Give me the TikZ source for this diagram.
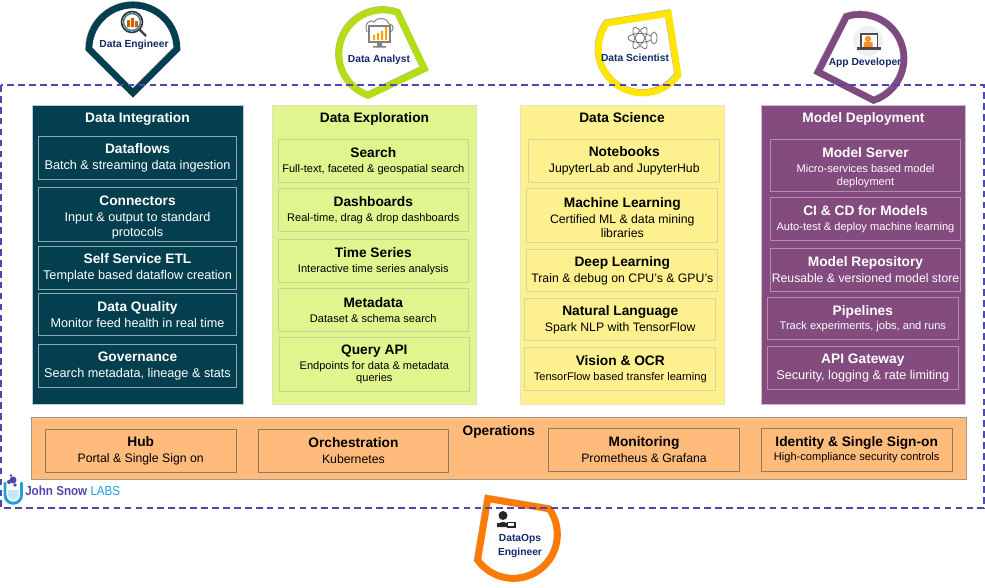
\documentclass[tikz,border=0pt]{standalone}
\usepackage{fontspec}
\setmainfont{Liberation Sans}
\usetikzlibrary{calc}
\usetikzlibrary{positioning}
\definecolor{IntegrationBg}{HTML}{043F4F}
\definecolor{IntegrationLine}{HTML}{8FA9B0}
\definecolor{ExplorationBg}{HTML}{E0F58E}
\definecolor{ExplorationLine}{HTML}{C3D29A}
\definecolor{ScienceBg}{HTML}{FDF08F}
\definecolor{ScienceLine}{HTML}{DDD29C}
\definecolor{DeploymentBg}{HTML}{844B7F}
\definecolor{DeploymentLine}{HTML}{AC90AC}
\definecolor{OperationsBg}{HTML}{FFBB7C}
\definecolor{OperationsLine}{HTML}{8E7A62}
\definecolor{FrameDash}{HTML}{4F46AE}
\definecolor{RoleText}{HTML}{122A6B}
\definecolor{LimePin}{HTML}{B5DD14}
\definecolor{YellowPin}{HTML}{FFE600}
\definecolor{PurplePin}{HTML}{7F4A80}
\definecolor{OrangePin}{HTML}{FF7A00}
\definecolor{LogoBlue}{HTML}{1E9FE0}
\newcommand{\subL}{\fontsize{9.5}{12}\selectfont\mdseries}
\newcommand{\subM}{\fontsize{9.2}{12}\selectfont\mdseries}
\newcommand{\subS}{\fontsize{8.3}{12}\selectfont\mdseries}
\newcommand{\tallhead}{\rule{0pt}{12pt}}
\newcommand{\midhead}{\rule{0pt}{10pt}}
\tikzset{
  panel/.style={shape=rectangle, anchor=north west, minimum width=153pt,
    minimum height=224.25pt, inner sep=0pt, outer sep=0pt},
  paneltitle/.style={font=\fontsize{10.3}{12}\selectfont\bfseries, inner sep=0pt,
    outer sep=0pt, text height=8pt, text depth=2.5pt},
  card/.style={shape=rectangle, minimum width=143pt, minimum height=32pt, inner sep=0pt,
    outer sep=0pt, align=center, line width=0.7pt, font=\fontsize{10.3}{12}\selectfont\bfseries,
    execute at begin node=\rule{0pt}{9pt}},
  darkcard/.style={card, draw=IntegrationLine, text=white, minimum width=149pt},
  limecard/.style={card, draw=ExplorationLine},
  sandcard/.style={card, draw=ScienceLine},
  plumcard/.style={card, draw=DeploymentLine, text=white},
  peachcard/.style={card, draw=OperationsLine},
  rolepin/.style={line width=5pt, miter limit=10},
  rolelabel/.style={text=RoleText, inner sep=0pt, align=center,
    font=\fontsize{7.7}{9.8}\selectfont\bfseries},
}
\begin{document}
\begin{tikzpicture}[x=0.75pt, y=0.75pt]
    \foreach \cx/\cy/\ang/\pincol in {133/-49/-90/IntegrationBg, 383/-54/-19.6/LimePin,
      642.5/-49/54/YellowPin, 860/-58.5/198/PurplePin, 513.5/-534.5/125.5/OrangePin} {
      \draw[rolepin, draw=black, opacity=0.3, shift={(-0.5,0.5)}]
        ($(\cx,\cy)+(\ang:33pt)$) -- ($(\cx,\cy)+(\ang+90:33pt)$)
        arc[start angle=\ang+90, end angle=\ang+270, radius=33pt] -- cycle;
      \draw[rolepin, draw=\pincol]
        ($(\cx,\cy)+(\ang:33pt)$) -- ($(\cx,\cy)+(\ang+90:33pt)$)
        arc[start angle=\ang+90, end angle=\ang+270, radius=33pt] -- cycle;
    }

    \draw[line width=1.5pt, FrameDash, dash pattern=on 5pt off 3.2pt] (1,-85) rectangle (984,-508);

    \node[name=integration, panel, fill=IntegrationBg, draw=IntegrationLine!60, minimum width=158.25pt] at (32,-105) {};
    \node[name=integrationtitle, paneltitle, text=white, below=5.4pt of integration.north] {Data Integration};
    \node[name=dataflows, darkcard, below=7.7pt of integrationtitle] {Dataflows\\\subL Batch \& streaming data ingestion};
    \node[name=connectors, darkcard, minimum height=40.5pt, below=6pt of dataflows] {\tallhead Connectors\\\subL Input \& output to standard\\[-1pt]\subL protocols};
    \node[name=selfservice, darkcard, below=4.1pt of connectors] {Self Service ETL\\\subL Template based dataflow creation};
    \node[name=quality, darkcard, below=3pt of selfservice] {Data Quality\\\subL Monitor feed health in real time};
    \node[name=governance, darkcard, below=6.4pt of quality] {Governance\\\subL Search metadata, lineage \& stats};

    \node[name=exploration, panel, fill=ExplorationBg, draw=ExplorationLine!60] at (272.5,-105) {};
    \node[name=explorationtitle, paneltitle, below=5.4pt of exploration.north] {Data Exploration};
    \node[name=search, limecard, below=10pt of explorationtitle, xshift=-0.9pt] {Search\\[-1pt]\subS Full-text, faceted \& geospatial search};
    \node[name=dashboards, limecard, below=4.9pt of search] {Dashboards\\[-1pt]\subS Real-time, drag \& drop dashboards};
    \node[name=timeseries, limecard, below=6.4pt of dashboards] {Time Series\\[-1pt]\subS Interactive time series analysis};
    \node[name=metadata, limecard, below=4.5pt of timeseries] {Metadata\\[-1pt]\subS Dataset \& schema search};
    \node[name=queryapi, limecard, minimum height=41pt, below=4.5pt of metadata, xshift=0.8pt] {Query API\\[-1pt]\subS Endpoints for data \& metadata\\[-2.5pt]\subS queries};

    \node[name=science, panel, fill=ScienceBg, draw=ScienceLine!60] at (520,-105) {};
    \node[name=sciencetitle, paneltitle, below=5.4pt of science.north] {Data Science};
    \node[name=notebooks, sandcard, below=10pt of sciencetitle, xshift=1.7pt] {Notebooks\\\subM JupyterLab and JupyterHub};
    \node[name=machinelearning, sandcard, minimum height=40pt, below=4.9pt of notebooks, xshift=-1.5pt] {\midhead Machine Learning\\\subM Certified ML \& data mining\\[-1.5pt]\subM libraries};
    \node[name=deeplearning, sandcard, below=5.25pt of machinelearning] {Deep Learning\\\subM Train \& debug on CPU's \& GPU's};
    \node[name=naturallanguage, sandcard, below=4.9pt of deeplearning, xshift=-1.5pt] {Natural Language\\\subM Spark NLP with TensorFlow};
    \node[name=visionocr, sandcard, below=5.25pt of naturallanguage] {Vision \& OCR\\[-1pt]\subS TensorFlow based transfer learning};

    \node[name=deployment, panel, fill=DeploymentBg, draw=DeploymentLine!60] at (761.5,-105) {};
    \node[name=deploymenttitle, paneltitle, text=white, below=5.4pt of deployment.north] {Model Deployment};
    \node[name=modelserver, plumcard, minimum height=39pt, below=10.3pt of deploymenttitle, xshift=1.5pt] {\midhead Model Server\\[-1pt]\subS Micro-services based model\\[-2.5pt]\subS deployment};
    \node[name=cicd, plumcard, below=4.5pt of modelserver] {CI \& CD for Models\\[-1pt]\subS Auto-test \& deploy machine learning};
    \node[name=repository, plumcard, below=6pt of cicd] {Model Repository\\\subM Reusable \& versioned model store};
    \node[name=pipelines, plumcard, below=4.5pt of repository, xshift=-2pt] {Pipelines\\[-1pt]\subS Track experiments, jobs, and runs};
    \node[name=gateway, plumcard, below=5.25pt of pipelines] {API Gateway\\\subL Security, logging \& rate limiting};

    \node[name=operations, panel, fill=OperationsBg, draw=OperationsLine!80, minimum width=701pt, minimum height=46pt] at (31.5,-417.5) {};
    \node[name=operationstitle, paneltitle, below=5.5pt of operations.north] {Operations};
    \node[name=hub, peachcard, right=10.4pt of operations.west, yshift=-1.9pt] {Hub\\\subM Portal \& Single Sign on};
    \node[name=orchestration, peachcard, right=16.5pt of hub] {Orchestration\\\subM Kubernetes};
    \node[name=monitoring, peachcard, right=75pt of orchestration, yshift=0.75pt] {Monitoring\\\subM Prometheus \& Grafana};
    \node[name=identity, peachcard, right=16.5pt of monitoring] {Identity \& Single Sign-on\\[-1pt]\subS High-compliance security controls};

    \node[name=engineerlabel, rolelabel] at (134,-44.5) {Data Engineer};
    \node[name=analystlabel, rolelabel] at (379,-60) {Data Analyst};
    \node[name=scientistlabel, rolelabel] at (635,-58) {Data Scientist};
    \node[name=developerlabel, rolelabel] at (865,-63) {App Developer};
    \node[name=dataopslabel, rolelabel] at (520,-546) {DataOps\\Engineer};

    \draw[line width=1.6pt, black!75] (139,-29) -- (146,-36);
    \draw[line width=1.2pt, black!80, fill=white] (132,-22) circle[radius=10.5];
    \draw[line width=1.2pt, cyan!60!black] (132,-22) circle[radius=8.5];
    \fill[OrangePin!80!black] (127,-27) rectangle (130,-20) (131,-27) rectangle (134,-18) (135,-27) rectangle (138,-21);

    \draw[line width=0.8pt, black!45, fill=white] (367,-32) .. controls (363,-22) and (372,-19) .. (374,-22)
      .. controls (378,-16) and (388,-18) .. (389,-24) .. controls (395,-24) and (394,-32) .. (389,-32);
    \draw[line width=1.2pt, black!50, fill=white] (369,-26) rectangle (390,-42);
    \fill[black!50] (377,-42) rectangle (382,-46) (373,-46) rectangle (386,-47.5);
    \fill[OrangePin!70!yellow] (373,-40) rectangle (375,-35) (377,-40) rectangle (379,-33) (381,-40) rectangle (383,-31) (385,-40) rectangle (387,-27);

    \draw[line width=0.6pt, black!55] (640,-38) ellipse[x radius=12, y radius=4.5];
    \draw[line width=0.6pt, black!55, rotate around={60:(640,-38)}] (640,-38) ellipse[x radius=12, y radius=4.5];
    \draw[line width=0.6pt, black!55, rotate around={120:(640,-38)}] (640,-38) ellipse[x radius=12, y radius=4.5];
    \draw[line width=0.6pt, black!55, fill=white] (654,-38) ellipse[x radius=3, y radius=6];

    \fill[black!6] (868,-41) circle[radius=15];
    \fill[black!70] (860,-48) rectangle (878,-33);
    \fill[white] (861.5,-46.5) rectangle (876.5,-34.5);
    \fill[OrangePin!85] (868,-39) circle[radius=3.2] (863.5,-47) rectangle (872.5,-42);
    \fill[black!70] (857,-47) rectangle (881,-49.5);

    \fill[black!85] (503,-515.5) circle[radius=4.5];
    \fill[black!85] (497,-527) .. controls (498,-520) and (508,-520) .. (509,-527) -- cycle;
    \draw[line width=0.9pt, black!85, fill=white] (507.5,-522.5) rectangle (515,-527);
    \fill[black!85] (497,-522.5) rectangle (505,-527);

    \draw[line width=2.2pt, LogoBlue, line cap=round] (5,-483) -- (5,-495) arc[start angle=180, end angle=360, radius=6.2pt] -- (21.5,-483);
    \fill[LogoBlue!25] (8,-490) -- (18.5,-490) -- (18.5,-495) arc[start angle=0, end angle=-180, radius=3.9pt] -- cycle;
    \fill[FrameDash] (13,-480) circle[radius=3.5] (9,-482) circle[radius=2] (11,-475.5) circle[radius=1.4] (15,-485) circle[radius=1.8];
    \node[name=logotext, anchor=west, inner sep=0pt, font=\fontsize{9.8}{12}\selectfont] at (25,-491)
      {\scalebox{0.89}[1]{\textcolor{FrameDash}{\bfseries John Snow} \textcolor{LogoBlue}{LABS}}};

    \path [use as bounding box] (0,0) rectangle (985,-584);
  \end{tikzpicture}
\end{document}
